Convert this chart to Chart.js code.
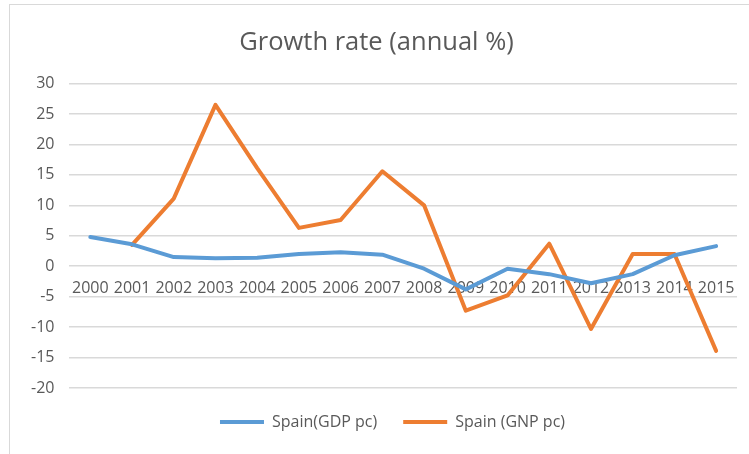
<!DOCTYPE html>
<html>
<head>
<meta charset="utf-8">
<script src="https://cdn.jsdelivr.net/npm/chart.js@4"></script>
<style>
  html, body { margin: 0; padding: 0; background: #fff; }
  #wrap { position: relative; width: 749px; height: 454px; overflow: hidden; }
  #frame { position: absolute; left: 9px; top: 4px; width: 760px; height: 470px; border: 1px solid #d9d9d9; box-sizing: border-box; }
  canvas { position: absolute; left: 0; top: 0; }
</style>
</head>
<body>
<div id="wrap">
  <div id="frame"></div>
  <canvas id="chart" width="749" height="454"></canvas>
</div>
<script>
const years = ['2000', '2001', '2002', '2003', '2004', '2005', '2006', '2007',
               '2008', '2009', '2010', '2011', '2012', '2013', '2014', '2015'];
const gdpPc = [4.8, 3.6, 1.5, 1.3, 1.4, 2.0, 2.3, 1.9, -0.4, -3.8, -0.4, -1.3, -2.8, -1.3, 1.8, 3.3];
const gnpPc = [null, 3.5, 11.1, 26.5, 16.1, 6.3, 7.6, 15.6, 10.0, -7.3, -4.8, 3.7, -10.3, 2.0, 2.0, -13.9];
const yTicks = [-20, -15, -10, -5, 0, 5, 10, 15, 20, 25, 30];

const textColor = '#595959';
const fontFamily = '"Open Sans", "Noto Sans", sans-serif';

// Excel centres the legend a bit further right than the canvas middle
const shiftLegend = {
    id: 'shiftLegend',
    afterLayout: function(chart) {
        chart.legend.left += 16;
        chart.legend.right += 16;
    }
};

document.addEventListener('DOMContentLoaded', function() {
    const ctx = document.getElementById('chart').getContext('2d');
    new Chart(ctx, {
        type: 'line',
        data: {
            labels: years,
            datasets: [{
                label: 'Spain(GDP pc)',
                data: gdpPc,
                borderColor: '#5B9BD5',
                backgroundColor: '#5B9BD5',
                borderWidth: 4,
                borderCapStyle: 'round',
                borderJoinStyle: 'round',
                pointRadius: 0,
                tension: 0
            }, {
                label: 'Spain (GNP pc)',
                data: gnpPc,
                borderColor: '#ED7D31',
                backgroundColor: '#ED7D31',
                borderWidth: 4,
                borderCapStyle: 'round',
                borderJoinStyle: 'round',
                pointRadius: 0,
                tension: 0
            }]
        },
        plugins: [shiftLegend],
        options: {
            responsive: false,
            animation: false,
            layout: { padding: { top: 12, right: 12, left: 16, bottom: 14 } },
            plugins: {
                title: {
                    display: true,
                    text: 'Growth rate (annual %)',
                    color: textColor,
                    font: { family: fontFamily, size: 25.5, weight: 'normal' },
                    padding: { top: 15, bottom: 26 }
                },
                legend: {
                    position: 'bottom',
                    labels: {
                        color: textColor,
                        font: { family: fontFamily, size: 16 },
                        usePointStyle: true,
                        pointStyleWidth: 44,
                        pointStyle: 'line',
                        padding: 26
                    }
                },
                tooltip: { enabled: false }
            },
            scales: {
                x: {
                    position: { y: 0 },
                    offset: true,
                    grid: { display: false },
                    border: { display: false },
                    ticks: {
                        color: textColor,
                        font: { family: fontFamily, size: 16 },
                        autoSkip: false,
                        maxRotation: 0,
                        padding: 5
                    }
                },
                y: {
                    min: -20,
                    max: 30,
                    afterBuildTicks: function(axis) {
                        axis.ticks = yTicks.map(v => ({ value: v }));
                    },
                    grid: { color: '#d9d9d9', lineWidth: 1.5, drawTicks: false },
                    border: { display: false },
                    ticks: {
                        color: textColor,
                        font: { family: fontFamily, size: 16 },
                        padding: 15
                    }
                }
            }
        }
    });
});
</script>
</body>
</html>
